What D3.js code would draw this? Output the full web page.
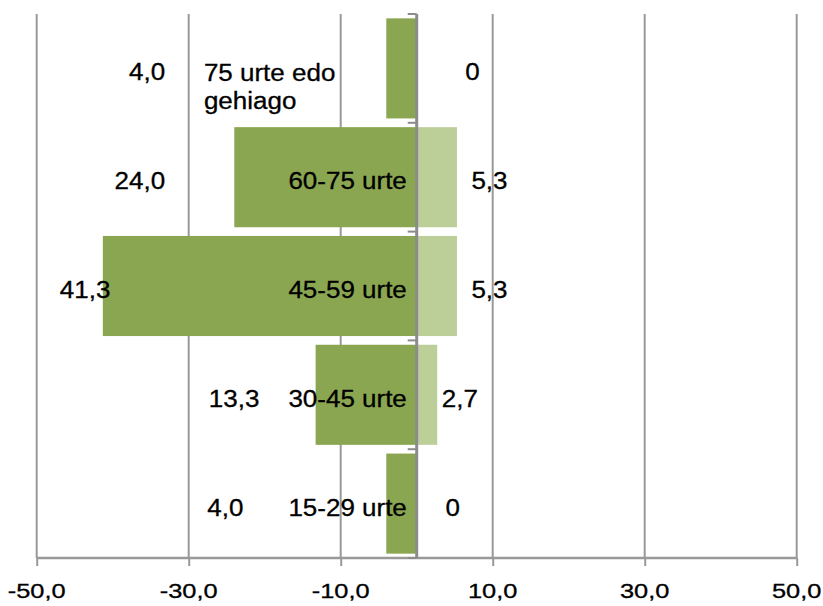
<!DOCTYPE html>
<html>
<head>
<meta charset="utf-8">
<script src="https://cdn.jsdelivr.net/npm/d3@7"></script>
<style>
  body { margin: 0; background: #fff; }
  svg text { font-family: "Liberation Sans", Arial, Helvetica, sans-serif; fill: #000; stroke: #000; stroke-width: 0.3; }
</style>
</head>
<body>
<div id="chart"></div>
<script>
// categorias, de arriba a abajo
var categories = ["75 urte edo gehiago", "60-75 urte", "45-59 urte", "30-45 urte", "15-29 urte"];
var catLines = [["75 urte edo", "gehiago"], ["60-75 urte"], ["45-59 urte"], ["30-45 urte"], ["15-29 urte"]];
var leftValues = [4.0, 24.0, 41.3, 13.3, 4.0];
var rightValues = [0, 5.3, 5.3, 2.7, 0];
var leftLabels = ["4,0", "24,0", "41,3", "13,3", "4,0"];
var rightLabels = ["0", "5,3", "5,3", "2,7", "0"];
var tickValues = [-50, -30, -10, 10, 30, 50];
var tickLabels = ["-50,0", "-30,0", "-10,0", "10,0", "30,0", "50,0"];

// donde caen las etiquetas (unidades del eje x)
var leftLabelEnd = [-33.1, -33.1, -40.3, -20.7, -22.8];
var rightLabelStart = [6.4, 7.2, 7.2, 3.3, 3.8];
var catLabelEnd = -1.3;
var catLabelStartTop = -28;

var width = 823, height = 606;
var top_ = 14, bottom = 558;

var svg = d3.select("#chart").append("svg").attr("width", width).attr("height", height);

var x = d3.scaleLinear().domain([-50, 50]).range([36.7, 796.7]);
var y = d3.scaleBand().domain(categories).range([top_, bottom]).paddingInner(0.08).paddingOuter(0.04);

var dark = "#8ba651", light = "#bdcf99", grid = "#999";

// rejilla vertical
svg.selectAll("line.grid").data(tickValues).enter().append("line")
  .attr("class", "grid")
  .attr("x1", d => x(d)).attr("x2", d => x(d))
  .attr("y1", top_).attr("y2", bottom)
  .style("stroke", grid).style("stroke-width", 2);

// barras
svg.selectAll("rect.left").data(categories).enter().append("rect")
  .attr("class", "left")
  .attr("x", (d, i) => x(-leftValues[i]))
  .attr("y", d => y(d))
  .attr("width", (d, i) => x(0) - x(-leftValues[i]))
  .attr("height", y.bandwidth())
  .style("fill", dark);

svg.selectAll("rect.right").data(categories).enter().append("rect")
  .attr("class", "right")
  .attr("x", x(0))
  .attr("y", d => y(d))
  .attr("width", (d, i) => x(rightValues[i]) - x(0))
  .attr("height", y.bandwidth())
  .style("fill", light);

// eje x
var xAxis = d3.axisBottom(x).tickValues(tickValues).tickSize(8).tickFormat("");
var gx = svg.append("g").attr("transform", "translate(0," + bottom + ")").call(xAxis);
gx.select(".domain").attr("d", "M" + x(-50) + ",0H" + x(50)).style("stroke", grid).style("stroke-width", 2.5);
gx.selectAll(".tick line").style("stroke", grid).style("stroke-width", 2);

// eje vertical en cero con marcas entre categorias
var bounds = categories.map(d => y(d) - y.step() * y.paddingInner() / 2);
bounds.push(bottom);
bounds[0] = top_;
var gy = svg.append("g");
gy.append("line").attr("x1", x(0)).attr("x2", x(0)).attr("y1", top_).attr("y2", bottom)
  .style("stroke", "#8c8c8c").style("stroke-width", 3);
gy.selectAll("line.tk").data(bounds).enter().append("line")
  .attr("class", "tk")
  .attr("x1", x(0) - 9).attr("x2", x(0))
  .attr("y1", d => d).attr("y2", d => d)
  .style("stroke", "#8c8c8c").style("stroke-width", 2);

// texto ensanchado
function label(g, px, py, txt, anchor, size, sx) {
  g.append("text")
    .attr("transform", "translate(" + px + "," + py + ") scale(" + sx + ",1)")
    .attr("text-anchor", anchor)
    .style("font-size", size + "px")
    .text(txt);
}

var labels = svg.append("g");
var cy = d => y(d) + y.bandwidth() / 2;
categories.forEach(function(c, i) {
  var base = cy(c) + 12;
  label(labels, x(leftLabelEnd[i]), base, leftLabels[i], "end", 23, 1.13);
  label(labels, x(rightLabelStart[i]), base, rightLabels[i], "start", 23, 1.13);
  if (catLines[i].length > 1) {
    label(labels, x(catLabelStartTop), base + 1, catLines[i][0], "start", 23, 1.13);
    label(labels, x(catLabelStartTop), base + 29, catLines[i][1], "start", 23, 1.13);
  } else {
    label(labels, x(catLabelEnd), base, catLines[i][0], "end", 23, 1.13);
  }
});

// etiquetas de ticks
tickValues.forEach(function(v, i) {
  label(svg, x(v), 597.5, tickLabels[i], "middle", 20, 1.27);
});
</script>
</body>
</html>
